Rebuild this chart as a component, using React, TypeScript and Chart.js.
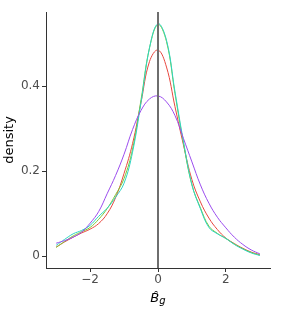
import React, { useEffect, useRef } from "react";
import { Chart, registerables } from "chart.js";

Chart.register(...registerables);

const xs = [-3, -2.75, -2.5, -2.25, -2, -1.75, -1.5, -1.25, -1, -0.75, -0.5, -0.25, 0, 0.25, 0.5, 0.75, 1, 1.25, 1.5, 1.75, 2, 2.25, 2.5, 2.75, 3];

const redSeries = [0.022, 0.034, 0.045, 0.055, 0.064, 0.077, 0.1, 0.138, 0.195, 0.265, 0.362, 0.458, 0.485, 0.445, 0.352, 0.262, 0.18, 0.128, 0.09, 0.063, 0.043, 0.03, 0.019, 0.01, 0.004];
const greenSeries = [0.021, 0.035, 0.048, 0.058, 0.068, 0.087, 0.112, 0.145, 0.183, 0.252, 0.368, 0.49, 0.545, 0.505, 0.383, 0.266, 0.168, 0.114, 0.071, 0.054, 0.042, 0.029, 0.018, 0.009, 0.003];
const cyanSeries = [0.026, 0.04, 0.053, 0.061, 0.073, 0.094, 0.113, 0.139, 0.172, 0.245, 0.362, 0.49, 0.547, 0.508, 0.387, 0.27, 0.168, 0.112, 0.068, 0.053, 0.042, 0.028, 0.017, 0.008, 0.002];
const purpleSeries = [0.031, 0.037, 0.045, 0.057, 0.078, 0.105, 0.147, 0.19, 0.24, 0.298, 0.343, 0.37, 0.377, 0.363, 0.331, 0.277, 0.222, 0.168, 0.125, 0.092, 0.067, 0.045, 0.028, 0.015, 0.006];

const seriesColors = ["#E8473F", "#7CC832", "#2ED4C4", "#9B4CEE"];
const xTicks = [-2, 0, 2];
const yTicks = [0, 0.2, 0.4];
const vlineX = 0;

export default function App() {
  const ref = useRef<HTMLCanvasElement>(null);
  useEffect(() => {
    document.body.style.margin = "0";
    const all = [redSeries, greenSeries, cyanSeries, purpleSeries];
    const ymaxData = Math.max(...all.flat());
    const yminData = 0;
    const yr = ymaxData - yminData;
    const xr = xs[xs.length - 1] - xs[0];

    const overlay = {
      id: "overlay",
      afterDatasetsDraw(chart: any) {
        const { ctx, chartArea, scales } = chart;
        const px = scales.x.getPixelForValue(vlineX);
        ctx.save();
        ctx.strokeStyle = "#6e6e6e";
        ctx.lineWidth = 2;
        ctx.beginPath();
        ctx.moveTo(px, chartArea.top);
        ctx.lineTo(px, chartArea.bottom);
        ctx.stroke();
        ctx.restore();
      },
      afterDraw(chart: any) {
        const { ctx, chartArea } = chart;
        const cx = (chartArea.left + chartArea.right) / 2;
        ctx.save();
        ctx.fillStyle = "#000";
        ctx.textBaseline = "alphabetic";
        ctx.font = "italic 13px 'DejaVu Sans'";
        const wB = ctx.measureText("B").width;
        ctx.font = "italic 10px 'DejaVu Sans'";
        const wg = ctx.measureText("g").width;
        const x0 = cx - (wB + wg) / 2;
        ctx.font = "italic 13px 'DejaVu Sans'";
        ctx.fillText("B\u0302", x0, 302);
        ctx.font = "italic 10px 'DejaVu Sans'";
        ctx.fillText("g", x0 + wB, 304);
        ctx.restore();
      },
    };

    const chart = new Chart(ref.current!, {
      type: "line",
      data: {
        datasets: all.map((s, i) => ({
          data: xs.map((x, j) => ({ x, y: s[j] })),
          borderColor: seriesColors[i],
          borderWidth: 1,
          pointRadius: 0,
          fill: false,
          tension: 0.4,
          order: all.length - i,
        })),
      },
      options: {
        animation: false,
        responsive: false,
        events: [],
        layout: { padding: { top: 12, right: 12, left: 0, bottom: 0 } },
        plugins: { legend: { display: false }, tooltip: { enabled: false } },
        scales: {
          x: {
            type: "linear",
            min: xs[0] - 0.05 * xr,
            max: xs[xs.length - 1] + 0.05 * xr,
            afterBuildTicks: (s: any) => {
              s.ticks = xTicks.map((v) => ({ value: v }));
            },
            afterFit: (s: any) => {
              s.height = 48;
            },
            ticks: {
              color: "#4D4D4D",
              font: { family: "'DejaVu Sans'", size: 12 },
              padding: 1,
              maxRotation: 0,
              callback: (v: any) => (Number(v) < 0 ? "\u2212" + Math.abs(Number(v)) : String(v)),
            },
            grid: { display: true, drawOnChartArea: false, drawTicks: true, tickLength: 4, color: "#333" },
            border: { display: true, color: "#333", width: 1 },
          },
          y: {
            type: "linear",
            min: yminData - 0.05 * yr,
            max: ymaxData + 0.05 * yr,
            afterBuildTicks: (s: any) => {
              s.ticks = yTicks.map((v) => ({ value: v }));
            },
            afterFit: (s: any) => {
              s.width = 46;
            },
            ticks: {
              color: "#4D4D4D",
              font: { family: "'DejaVu Sans'", size: 12 },
              padding: 2,
              callback: (v: any) => String(Number(v)),
            },
            title: {
              display: true,
              text: "density",
              color: "#000",
              font: { family: "'DejaVu Sans'", size: 13 },
              padding: { top: 2, bottom: 0 },
            },
            grid: { display: true, drawOnChartArea: false, drawTicks: true, tickLength: 4, color: "#333" },
            border: { display: true, color: "#333", width: 1 },
          },
        },
      },
      plugins: [overlay],
    });
    return () => chart.destroy();
  }, []);
  return (
    <div style={{ width: 282, height: 316, background: "#fff" }}>
      <canvas ref={ref} width={282} height={316} style={{ display: "block" }} />
    </div>
  );
}
